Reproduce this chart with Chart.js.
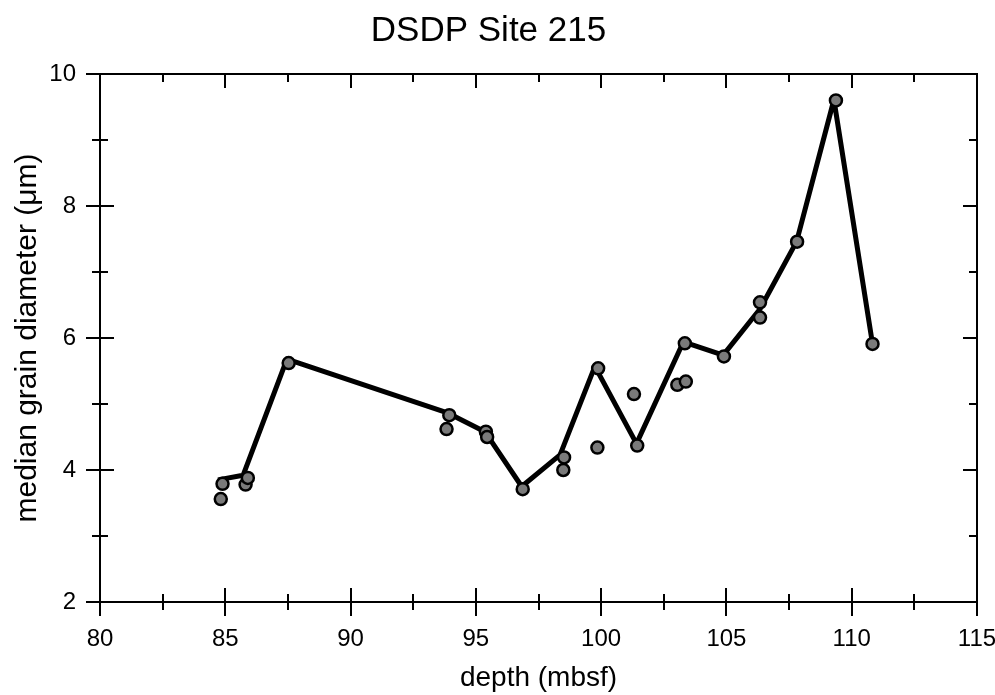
<!DOCTYPE html>
<html>
<head>
<meta charset="utf-8">
<script src="https://cdn.jsdelivr.net/npm/chart.js@4"></script>
<style>
  html, body { margin: 0; padding: 0; background: #fff; }
  #wrap { width: 995px; height: 695px; }
</style>
</head>
<body>
<div id="wrap"><canvas id="chart" width="995" height="695"></canvas></div>
<script>
// mean curve (depth, diameter)
const lineDepth = [84.71, 85.71, 87.46, 93.9, 95.36, 96.83, 98.36, 99.75, 101.41, 103.28, 104.87, 106.34, 107.8, 109.29, 110.83];
const lineDiam  = [3.85, 3.92, 5.68, 4.86, 4.58, 3.75, 4.23, 5.57, 4.40, 5.94, 5.74, 6.44, 7.46, 9.61, 5.91];

// individual measurements
const dotDepth = [84.89, 84.82, 85.81, 85.9, 87.53, 93.94, 93.83, 95.4, 95.45, 96.87, 98.52, 98.49, 99.88, 99.85,
                  101.31, 101.44, 103.04, 103.38, 103.34, 104.9, 106.34, 106.34, 107.82, 109.37, 110.83];
const dotDiam  = [3.79, 3.56, 3.78, 3.88, 5.62, 4.83, 4.62, 4.58, 4.5, 3.71, 4.19, 4.0, 5.54, 4.34,
                  5.15, 4.37, 5.29, 5.34, 5.92, 5.72, 6.54, 6.31, 7.46, 9.6, 5.91];

const xMajor = [80, 85, 90, 95, 100, 105, 110, 115];
const xMinor = [82.5, 87.5, 92.5, 97.5, 102.5, 107.5, 112.5];
const yMajor = [2, 4, 6, 8, 10];
const yMinor = [3, 5, 7, 9];

const FONT = '"Liberation Sans", Arial, Helvetica, sans-serif';

const toPoints = (xs, ys) => xs.map((x, i) => ({ x: x, y: ys[i] }));

// box and ticks that cross the axes, like the original plot
const frame = {
    id: 'frame',
    afterDraw(chart) {
        const ctx = chart.ctx;
        const a = chart.chartArea;
        const sx = chart.scales.x;
        const sy = chart.scales.y;
        const big = 14, small = 8;

        ctx.save();
        ctx.strokeStyle = '#000';
        ctx.lineWidth = 2;
        ctx.strokeRect(a.left, a.top, a.right - a.left, a.bottom - a.top);

        ctx.beginPath();
        const xt = (v, len) => {
            const p = Math.round(sx.getPixelForValue(v));
            ctx.moveTo(p, a.bottom - len);
            ctx.lineTo(p, a.bottom + len);
            ctx.moveTo(p, a.top);
            ctx.lineTo(p, a.top + len);
        };
        const yt = (v, len) => {
            const p = Math.round(sy.getPixelForValue(v));
            ctx.moveTo(a.left - len, p);
            ctx.lineTo(a.left + len, p);
            ctx.moveTo(a.right - len, p);
            ctx.lineTo(a.right, p);
        };
        xMajor.forEach(v => xt(v, big));
        xMinor.forEach(v => xt(v, small));
        yMajor.forEach(v => yt(v, big));
        yMinor.forEach(v => yt(v, small));
        ctx.stroke();
        ctx.restore();
    }
};

new Chart(document.getElementById('chart'), {
    type: 'scatter',
    data: {
        datasets: [
            {
                label: 'mean',
                data: toPoints(lineDepth, lineDiam),
                showLine: true,
                borderColor: '#000',
                borderWidth: 5,
                borderJoinStyle: 'round',
                pointRadius: 0,
                order: 2
            },
            {
                label: 'samples',
                data: toPoints(dotDepth, dotDiam),
                showLine: false,
                pointRadius: 6,
                pointBackgroundColor: '#7a7a7a',
                pointBorderColor: '#000',
                pointBorderWidth: 2.5,
                order: 1
            }
        ]
    },
    options: {
        responsive: false,
        animation: false,
        devicePixelRatio: 1,
        layout: { padding: { left: 0, right: 18, top: 0, bottom: 0 } },
        plugins: {
            legend: { display: false },
            tooltip: { enabled: false },
            title: {
                display: true,
                text: 'DSDP Site 215',
                color: '#000',
                font: { family: FONT, size: 35, weight: 'normal' },
                padding: { top: 10, bottom: 22 }
            }
        },
        scales: {
            x: {
                type: 'linear',
                min: 80,
                max: 115,
                afterBuildTicks: s => { s.ticks = xMajor.map(v => ({ value: v })); },
                afterFit: s => { s.height = 93; s.paddingLeft = 0; s.paddingRight = 0; },
                grid: { display: false, drawTicks: false },
                border: { display: false },
                ticks: { color: '#000', padding: 23, font: { family: FONT, size: 24 } },
                title: {
                    display: true,
                    text: 'depth (mbsf)',
                    color: '#000',
                    font: { family: FONT, size: 28 },
                    padding: { top: 0, bottom: 0 }
                }
            },
            y: {
                type: 'linear',
                min: 2,
                max: 10,
                afterBuildTicks: s => { s.ticks = yMajor.map(v => ({ value: v })); },
                afterFit: s => { s.width = 100; },
                grid: { display: false, drawTicks: false },
                border: { display: false },
                ticks: { color: '#000', padding: 24, font: { family: FONT, size: 24 } },
                title: {
                    display: true,
                    text: 'median grain diameter (μm)',
                    color: '#000',
                    font: { family: FONT, size: 30 },
                    padding: { top: 10, bottom: 0 }
                }
            }
        }
    },
    plugins: [frame]
});
</script>
</body>
</html>
